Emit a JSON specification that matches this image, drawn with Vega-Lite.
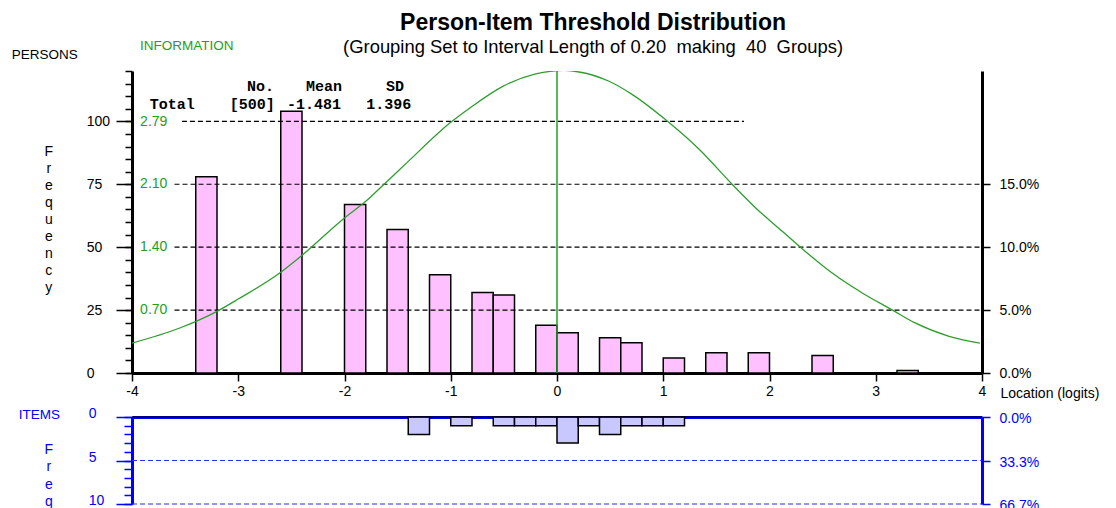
{
  "$schema": "https://vega.github.io/schema/vega-lite/v6.json",
  "padding": {"left": 11, "top": 11, "right": 0, "bottom": 0},
  "background": "white",
  "config": {
    "view": {"stroke": null},
    "font": "Liberation Sans",
    "axis": {"grid": false, "labelFont": "Liberation Sans", "titleFont": "Liberation Sans", "labelFlush": false, "labelOverlap": false, "labelFontSize": 14, "titleFontSize": 14, "titleFontWeight": "normal"}
  },
  "title": {
    "text": "Person-Item Threshold Distribution",
    "subtitle": "(Grouping Set to Interval Length of 0.20\u00a0 making\u00a0 40\u00a0 Groups)",
    "anchor": "middle",
    "font": "Liberation Sans",
    "fontSize": 23,
    "fontWeight": "bold",
    "color": "black",
    "subtitleFont": "Liberation Sans",
    "subtitleFontSize": 18.4,
    "subtitleColor": "black",
    "subtitlePadding": 3,
    "offset": -18,
    "dx": 38
  },
  "datasets": {
    "persons": [
      {"lo": -3.4, "hi": -3.2, "n": 78},
      {"lo": -2.6, "hi": -2.4, "n": 104},
      {"lo": -2.0, "hi": -1.8, "n": 67},
      {"lo": -1.6, "hi": -1.4, "n": 57},
      {"lo": -1.2, "hi": -1.0, "n": 39},
      {"lo": -0.8, "hi": -0.6, "n": 32},
      {"lo": -0.6, "hi": -0.4, "n": 31},
      {"lo": -0.2, "hi": 0.0, "n": 19},
      {"lo": 0.0, "hi": 0.2, "n": 16},
      {"lo": 0.4, "hi": 0.6, "n": 14},
      {"lo": 0.6, "hi": 0.8, "n": 12},
      {"lo": 1.0, "hi": 1.2, "n": 6},
      {"lo": 1.4, "hi": 1.6, "n": 8},
      {"lo": 1.8, "hi": 2.0, "n": 8},
      {"lo": 2.4, "hi": 2.6, "n": 7},
      {"lo": 3.2, "hi": 3.4, "n": 1}
    ],
    "items": [
      {"lo": -1.4, "hi": -1.2, "n": 2},
      {"lo": -1.0, "hi": -0.8, "n": 1},
      {"lo": -0.6, "hi": -0.4, "n": 1},
      {"lo": -0.4, "hi": -0.2, "n": 1},
      {"lo": -0.2, "hi": 0.0, "n": 1},
      {"lo": 0.0, "hi": 0.2, "n": 3},
      {"lo": 0.2, "hi": 0.4, "n": 1},
      {"lo": 0.4, "hi": 0.6, "n": 2},
      {"lo": 0.6, "hi": 0.8, "n": 1},
      {"lo": 0.8, "hi": 1.0, "n": 1},
      {"lo": 1.0, "hi": 1.2, "n": 1}
    ],
    "info": [
      {"x": -4.0, "info": 0.332},
      {"x": -3.55, "info": 0.499},
      {"x": -3.2, "info": 0.684},
      {"x": -3.0, "info": 0.82},
      {"x": -2.61, "info": 1.108},
      {"x": -2.41, "info": 1.295},
      {"x": -2.0, "info": 1.719},
      {"x": -1.8, "info": 1.903},
      {"x": -1.63, "info": 2.09},
      {"x": -1.4, "info": 2.346},
      {"x": -1.0, "info": 2.779},
      {"x": -0.82, "info": 2.938},
      {"x": -0.51, "info": 3.178},
      {"x": -0.2, "info": 3.315},
      {"x": 0.07, "info": 3.354},
      {"x": 0.21, "info": 3.337},
      {"x": 0.49, "info": 3.234},
      {"x": 0.71, "info": 3.086},
      {"x": 1.02, "info": 2.81},
      {"x": 1.34, "info": 2.478},
      {"x": 1.65, "info": 2.09},
      {"x": 1.87, "info": 1.83},
      {"x": 2.12, "info": 1.571},
      {"x": 2.31, "info": 1.375},
      {"x": 2.59, "info": 1.108},
      {"x": 2.9, "info": 0.868},
      {"x": 3.15, "info": 0.703},
      {"x": 3.37, "info": 0.555},
      {"x": 3.69, "info": 0.407},
      {"x": 3.98, "info": 0.332}
    ],
    "pgrid": [
      {"y": 25, "from": -3.6, "to": 4},
      {"y": 50, "from": -3.6, "to": 4},
      {"y": 75, "from": -3.6, "to": 4},
      {"y": 100, "from": -3.53, "to": 1.76}
    ],
    "pref": [{"x": 0, "from": 0, "to": 120}],
    "stats": [
      {"t": "No.", "x": -2.918, "y": 113.9},
      {"t": "Mean", "x": -2.362, "y": 113.9},
      {"t": "SD", "x": -1.609, "y": 113.9},
      {"t": "Total", "x": -3.834, "y": 107.0},
      {"t": "[500]", "x": -3.081, "y": 107.0},
      {"t": "-1.481", "x": -2.541, "y": 107.0},
      {"t": "1.396", "x": -1.795, "y": 107.0}
    ],
    "igrid": [
      {"y": 5, "from": -4, "to": 4},
      {"y": 10, "from": -4, "to": 4}
    ],
    "izero": [{"y": 0, "from": -4, "to": 4}]
  },
  "spacing": 6,
  "vconcat": [
    {
      "width": 850,
      "height": 302,
      "layer": [
        {
          "data": {"name": "persons"},
          "mark": {"type": "rect", "fill": "#ffc0ff", "stroke": "black", "strokeWidth": 1.5},
          "encoding": {
            "x": {"field": "lo", "type": "quantitative", "scale": {"domain": [-4, 4], "nice": false, "zero": false}, "title": "Location (logits)",
              "axis": {"values": [-4, -3, -2, -1, 0, 1, 2, 3, 4], "labelExpr": "'' + datum.value", "tickSize": 8, "tickColor": "black", "tickWidth": 1.5, "domainColor": "black", "domainWidth": 3, "labelColor": "black", "labelPadding": 3, "title": "Location (logits)", "titleX": 868, "titleY": 20, "titleAlign": "left", "titleBaseline": "middle", "titleColor": "black", "titleAnchor": "start"}},
            "x2": {"field": "hi"},
            "y": {"field": "n", "type": "quantitative", "scale": {"domain": [0, 120], "nice": false},
              "axis": {"orient": "left", "values": [0, 25, 50, 75, 100], "tickSize": 16, "tickColor": "black", "tickWidth": 1.5, "domainColor": "black", "domainWidth": 3, "labelAlign": "left", "labelPadding": 29.7, "labelColor": "black", "labelBaseline": "middle",
                "title": ["F", "r", "e", "q", "u", "e", "n", "c", "y"], "titleAngle": 0, "titleAlign": "center", "titleBaseline": "top", "titleX": -83.7, "titleY": 73, "titleLineHeight": 17.1, "titleColor": "black"}},
            "y2": {"datum": 0}
          }
        },
        {
          "data": {"name": "pgrid"},
          "mark": {"type": "rule", "strokeDash": [5, 3], "color": "black", "strokeWidth": 1.2},
          "encoding": {
            "x": {"field": "from", "type": "quantitative", "scale": {"domain": [-4, 4], "nice": false, "zero": false}, "title": "Location (logits)"},
            "x2": {"field": "to"},
            "y": {"field": "y", "type": "quantitative", "scale": {"domain": [0, 120], "nice": false},
              "axis": {"orient": "right", "values": [0, 25, 50, 75], "labelExpr": "format(datum.value / 500, '.1%')", "tickSize": 8, "tickColor": "black", "tickWidth": 1.5, "domainColor": "black", "domainWidth": 3, "labelColor": "black", "labelPadding": 9, "labelBaseline": "middle", "title": null}}
          }
        },
        {
          "data": {"name": "pref"},
          "mark": {"type": "rule", "color": "#22a022", "strokeWidth": 1.5},
          "encoding": {
            "x": {"field": "x", "type": "quantitative", "scale": {"domain": [-4, 4], "nice": false, "zero": false}, "title": "Location (logits)"},
            "y": {"field": "from", "type": "quantitative", "scale": {"domain": [0, 120], "nice": false},
              "axis": {"orient": "left", "values": [0, 5, 10, 15, 20, 25, 30, 35, 40, 45, 50, 55, 60, 65, 70, 75, 80, 85, 90, 95, 100, 105, 110, 115, 120], "tickSize": 7, "tickColor": "black", "tickWidth": 1.5, "domain": false, "labels": false,
                "title": "PERSONS", "titleAngle": 0, "titleAlign": "left", "titleBaseline": "middle", "titleX": -120.7, "titleY": -17, "titleColor": "black", "titleFontSize": 13.5}},
            "y2": {"field": "to"}
          }
        },
        {
          "data": {"name": "info"},
          "mark": {"type": "line", "color": "#2e9e2e", "strokeWidth": 1.3, "interpolate": "monotone", "clip": true},
          "encoding": {
            "x": {"field": "x", "type": "quantitative", "scale": {"domain": [-4, 4], "nice": false, "zero": false}, "title": "Location (logits)"},
            "y": {"field": "info", "type": "quantitative", "scale": {"domain": [0, 3.348], "nice": false},
              "axis": {"orient": "left", "values": [0.7, 1.4, 2.1, 2.79], "format": ".2f", "ticks": false, "tickSize": 0, "domain": false, "labelAlign": "left", "labelPadding": -7.6, "labelColor": "#22a022", "labelBaseline": "middle",
                "title": "INFORMATION", "titleAngle": 0, "titleAlign": "left", "titleBaseline": "middle", "titleX": 7.6, "titleY": -25.7, "titleColor": "#22a022", "titleFontSize": 13.5}}
          }
        },
        {
          "data": {"name": "stats"},
          "mark": {"type": "text", "align": "left", "baseline": "middle", "font": "Liberation Mono", "fontWeight": "bold", "fontSize": 15, "color": "black"},
          "encoding": {
            "x": {"field": "x", "type": "quantitative", "scale": {"domain": [-4, 4], "nice": false, "zero": false}, "title": "Location (logits)"},
            "y": {"field": "y", "type": "quantitative", "scale": {"domain": [0, 120], "nice": false}, "axis": null},
            "text": {"field": "t"}
          }
        }
      ],
      "resolve": {"scale": {"y": "independent"}, "axis": {"y": "independent"}}
    },
    {
      "width": 850,
      "height": 87,
      "layer": [
        {
          "data": {"name": "items"},
          "mark": {"type": "rect", "fill": "#c8c8ff", "stroke": "black", "strokeWidth": 1.5},
          "encoding": {
            "x": {"field": "lo", "type": "quantitative", "scale": {"domain": [-4, 4], "nice": false, "zero": false}, "title": null,
              "axis": {"orient": "top", "domainColor": "#0000ff", "domainWidth": 3, "ticks": false, "labels": false, "title": null}},
            "x2": {"field": "hi"},
            "y": {"field": "n", "type": "quantitative", "scale": {"domain": [0, 10], "nice": false, "reverse": true},
              "axis": {"orient": "left", "values": [0, 5, 10], "tickSize": 16, "tickColor": "#0000ff", "tickWidth": 1.5, "domainColor": "#0000ff", "domainWidth": 3, "labelAlign": "left", "labelPadding": 27.7, "labelColor": "#0000ff", "labelBaseline": "middle", "labelOffset": -3.5,
                "title": ["F", "r", "e", "q"], "titleAngle": 0, "titleAlign": "center", "titleBaseline": "top", "titleX": -83.7, "titleY": 25, "titleLineHeight": 17.5, "titleColor": "#0000ff"}},
            "y2": {"datum": 0}
          }
        },
        {
          "data": {"name": "igrid"},
          "mark": {"type": "rule", "strokeDash": [5, 3], "color": "#2a2aff", "strokeWidth": 1.1},
          "encoding": {
            "x": {"field": "from", "type": "quantitative", "scale": {"domain": [-4, 4], "nice": false, "zero": false}, "title": null},
            "x2": {"field": "to"},
            "y": {"field": "y", "type": "quantitative", "scale": {"domain": [0, 10], "nice": false, "reverse": true},
              "axis": {"orient": "right", "values": [0, 5, 10], "labelExpr": "format(datum.value / 15, '.1%')", "tickSize": 8, "tickColor": "#0000ff", "tickWidth": 1.5, "domainColor": "#0000ff", "domainWidth": 3, "labelColor": "#0000ff", "labelPadding": 9, "labelBaseline": "middle", "labelOffset": 1.5, "title": null}}
          }
        },
        {
          "data": {"name": "izero"},
          "mark": {"type": "rule", "color": "black", "strokeWidth": 1.2},
          "encoding": {
            "x": {"field": "from", "type": "quantitative", "scale": {"domain": [-4, 4], "nice": false, "zero": false}, "title": null},
            "x2": {"field": "to"},
            "y": {"field": "y", "type": "quantitative", "scale": {"domain": [0, 10], "nice": false, "reverse": true},
              "axis": {"orient": "left", "values": [0, 1, 2, 3, 4, 5, 6, 7, 8, 9, 10], "tickSize": 8, "tickColor": "#0000ff", "tickWidth": 1.5, "domain": false, "labels": false,
                "title": "ITEMS", "titleAngle": 0, "titleAlign": "left", "titleBaseline": "middle", "titleX": -113.7, "titleY": -3, "titleColor": "#0000ff", "titleFontSize": 13.5}}
          }
        }
      ],
      "resolve": {"scale": {"y": "independent"}, "axis": {"y": "independent"}}
    }
  ]
}
